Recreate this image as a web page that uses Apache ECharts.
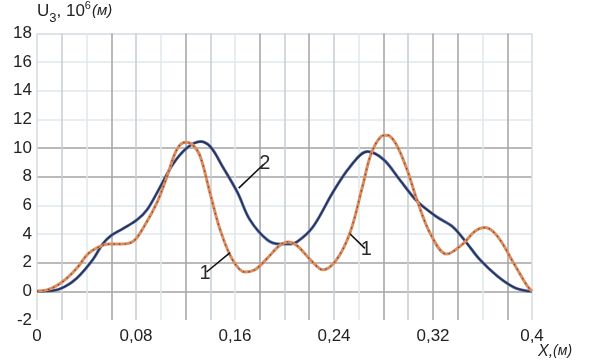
<!DOCTYPE html>
<html>
<head>
<meta charset="utf-8">
<script src="https://cdn.jsdelivr.net/npm/echarts@6/dist/echarts.min.js"></script>
<style>
  html, body { margin: 0; padding: 0; background: #fff; }
  #chart { width: 589px; height: 360px; }
</style>
</head>
<body>
<div id="chart"></div>
<script>
// Displacement U3 along the beam, curves 1 and 2
const curve1X = [0, 0.008, 0.016, 0.024, 0.033, 0.041, 0.050, 0.058, 0.068, 0.078, 0.087, 0.097, 0.105, 0.113, 0.120, 0.126, 0.132, 0.140, 0.148, 0.158, 0.168, 0.176, 0.186, 0.196, 0.203, 0.210, 0.221, 0.231, 0.242, 0.253, 0.263, 0.270, 0.278, 0.283, 0.290, 0.299, 0.307, 0.318, 0.331, 0.344, 0.354, 0.362, 0.372, 0.385, 0.396, 0.4];
const curve1Y = [0, 0.1, 0.4, 0.9, 1.7, 2.6, 3.1, 3.3, 3.3, 3.5, 4.6, 6.2, 8.0, 9.9, 10.4, 10.2, 9.4, 6.8, 4.3, 2.2, 1.35, 1.5, 2.3, 3.2, 3.45, 3.2, 2.2, 1.5, 2.2, 4.1, 7.3, 9.6, 10.8, 10.9, 10.3, 8.5, 6.4, 4.0, 2.6, 3.3, 4.2, 4.45, 3.85, 2.0, 0.4, 0];

const curve2X = [0, 0.013, 0.022, 0.032, 0.045, 0.053, 0.060, 0.070, 0.081, 0.089, 0.099, 0.110, 0.121, 0.132, 0.140, 0.150, 0.162, 0.172, 0.186, 0.196, 0.203, 0.210, 0.223, 0.239, 0.253, 0.267, 0.280, 0.293, 0.307, 0.323, 0.336, 0.347, 0.358, 0.372, 0.385, 0.396, 0.4];
const curve2Y = [0, 0.05, 0.3, 0.9, 2.2, 3.3, 3.9, 4.4, 5.0, 5.7, 7.2, 8.9, 10.0, 10.45, 10.1, 8.7, 6.9, 5.0, 3.6, 3.3, 3.3, 3.45, 4.5, 6.9, 8.7, 9.75, 9.2, 7.8, 6.3, 5.2, 4.5, 3.4, 2.2, 1.06, 0.3, 0.02, 0];

// Curve callouts: leader line start/end in data units, and the text
const label2Line = [[0.163, 7.2], [0.183, 8.85]];
const label1aLine = [[0.156, 2.7], [0.137, 1.35]];
const label1bLine = [[0.253, 4.0], [0.265, 3.0]];

const xMin = 0, xMax = 0.4, xStep = 0.02, xLabelStep = 0.08;
const yMin = -2, yMax = 18, yStep = 2;

// Grid shades, one per line from left to right / bottom to top
const DARK = '#a3a3a3', MID = '#c5ccd2', FAINT = '#e0e7eb', EDGE = '#d3dbe0';
const vLineColors = [EDGE, MID, FAINT, DARK, MID, FAINT, DARK, MID, FAINT, DARK, MID,
                     DARK, MID, FAINT, DARK, MID, DARK, DARK, FAINT, DARK, EDGE];
const hLineColors = ['rgba(0,0,0,0)', DARK, DARK, FAINT, FAINT, DARK, DARK, FAINT, FAINT, FAINT, EDGE];

const pairs = (xs, ys) => xs.map((x, i) => [x, ys[i]]);
const FONT = '"Liberation Sans", Arial, sans-serif';

function callout(line, text) {
  return [{ coord: line[0] }, { coord: line[1], label: { formatter: text } }];
}

const chart = echarts.init(document.getElementById('chart'), null, { renderer: 'canvas' });
chart.setOption({
  animation: false,
  backgroundColor: '#ffffff',
  grid: { left: 37, right: 57, top: 32, bottom: 40 },
  xAxis: {
    type: 'value', min: xMin, max: xMax, interval: xStep,
    axisLine: { show: false }, axisTick: { show: false },
    splitLine: { show: true, lineStyle: { color: vLineColors, width: 1.5 } },
    axisLabel: {
      color: '#222', fontSize: 17, fontFamily: FONT, margin: 8,
      formatter: v => {
        const k = Math.round(v * 100);
        if (k % Math.round(xLabelStep * 100) !== 0) return '';
        return String(+v.toFixed(2)).replace('.', ',');
      }
    },
    name: '{x|X,}{u|(м)}', nameLocation: 'end', nameGap: 6, nameMoveOverlap: false,
    nameTextStyle: {
      align: 'left', verticalAlign: 'top', padding: [52, 0, 0, 0],
      rich: {
        x: { fontSize: 16, fontStyle: 'italic', color: '#222', fontFamily: FONT },
        u: { fontSize: 14, fontStyle: 'italic', color: '#222', fontFamily: FONT }
      }
    }
  },
  yAxis: {
    type: 'value', min: yMin, max: yMax, interval: yStep,
    axisLine: { show: false }, axisTick: { show: false },
    splitLine: { show: true, lineStyle: { color: hLineColors, width: 1.5 } },
    axisLabel: { color: '#222', fontSize: 17, fontFamily: FONT, margin: 5 },
    name: '{a|U}{s|3}{a|, 10}{p|6}{i|(м)}', nameLocation: 'end', nameGap: 2,
    nameTextStyle: {
      align: 'left', verticalAlign: 'bottom', padding: [0, 0, 0, 0],
      rich: {
        a: { fontSize: 17, color: '#222', fontFamily: FONT, lineHeight: 22, verticalAlign: 'middle' },
        s: { fontSize: 13, color: '#222', fontFamily: FONT, lineHeight: 22, verticalAlign: 'bottom', padding: [0, 0, -3, 0] },
        p: { fontSize: 11, color: '#222', fontFamily: FONT, lineHeight: 22, verticalAlign: 'top', padding: [0, 1, 0, 0] },
        i: { fontSize: 15, fontStyle: 'italic', color: '#222', fontFamily: FONT, lineHeight: 22, verticalAlign: 'middle' }
      }
    }
  },
  series: [
    {
      name: '2', type: 'line', data: pairs(curve2X, curve2Y), smooth: 0.35,
      showSymbol: false, lineStyle: { color: '#5a78ad', width: 3 }, z: 2,
      markLine: {
        silent: true, symbol: 'none', animation: false,
        lineStyle: { color: '#111', width: 1.6, type: 'solid' },
        label: { show: true, position: 'end', distance: 2, color: '#2a2a2a', fontSize: 20, fontFamily: FONT },
        data: [callout(label2Line, '2')]
      }
    },
    {
      name: '2 core', type: 'line', data: pairs(curve2X, curve2Y), smooth: 0.35,
      showSymbol: false, lineStyle: { color: '#2b2f55', width: 1.6 }, z: 3
    },
    {
      name: '1', type: 'line', data: pairs(curve1X, curve1Y), smooth: 0.35,
      showSymbol: false, lineStyle: { color: '#d98f62', width: 3 }, z: 4,
      markLine: {
        silent: true, symbol: 'none', animation: false,
        lineStyle: { color: '#111', width: 1.6, type: 'solid' },
        label: { show: true, position: 'end', distance: 2, color: '#2a2a2a', fontSize: 20, fontFamily: FONT },
        data: [callout(label1aLine, '1'), callout(label1bLine, '1')]
      }
    },
    {
      name: '1 dots', type: 'line', data: pairs(curve1X, curve1Y), smooth: 0.35,
      showSymbol: false, lineStyle: { color: '#8a3c28', width: 1.2, type: [1.5, 4] }, z: 5
    }
  ]
});
</script>
</body>
</html>
